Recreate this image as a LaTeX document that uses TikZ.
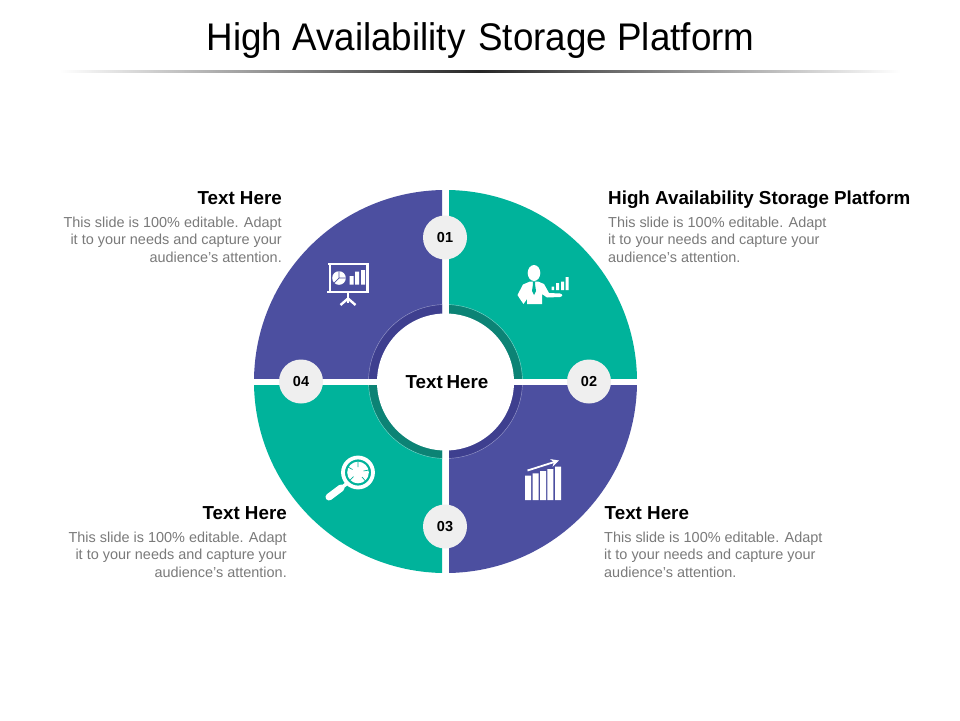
\documentclass[tikz,border=0pt]{standalone}
\usepackage{fontspec}
\setmainfont{Liberation Sans}
\usetikzlibrary{arrows.meta}
\definecolor{tealq}{HTML}{00B39B}
\definecolor{purq}{HTML}{4C4FA0}
\definecolor{tealr}{HTML}{0C8375}
\definecolor{purr}{HTML}{3E3F8F}
\definecolor{badgec}{HTML}{EFEFEF}
\definecolor{bodyc}{HTML}{7A7A7A}
\definecolor{rimt}{HTML}{7FD9CD}
\definecolor{rimp}{HTML}{9A9CCB}
\tikzset{
  headtext/.style={inner sep=0pt,font=\fontsize{18.8}{20}\selectfont\bfseries,text=black},
  bodytext/.style={inner sep=0pt,font=\fontsize{14.45}{17.5}\selectfont,text=bodyc},
  badge/.style={circle,fill=badgec,minimum size=44pt,inner sep=0pt,font=\fontsize{14.5}{16}\selectfont\bfseries,text=black},
  ico/.style={white,line width=2.4pt},
}
\newcommand{\quadr}[6]{%
  \begin{scope}
    \clip (#1,#2) rectangle (#3,#4);
    \fill[#5] (445.5,381.5) circle[radius=191.5];
    \fill[#6] (445.5,381.5) circle[radius=77];
  \end{scope}}
\begin{document}
\begin{tikzpicture}[x=1pt,y=-1pt]
\useasboundingbox (0,0) rectangle (960,720);
\fill[white] (0,0) rectangle (960,720);
% title
\node[inner sep=0pt,font=\fontsize{38.5}{42}\selectfont,text=black] (title) at (480.5,41) {\scalebox{0.955}[1]{High Availability\hspace{3pt} Storage Platform}};
\shade[left color=white,right color=black!85] (60,70.4) rectangle (480,72);
\shade[left color=black!85,right color=white] (480,70.4) rectangle (900,72);
% quadrants
\quadr{449}{180}{645}{378}{tealq}{tealr}
\quadr{449}{385}{645}{580}{purq}{purr}
\quadr{245}{385}{442}{580}{tealq}{tealr}
\quadr{245}{180}{442}{378}{purq}{purr}
% rim lines
\begin{scope}
  \clip (449,180) rectangle (645,378);
  \draw[rimt,line width=.4pt] (445.5,381.5) circle[radius=77];
\end{scope}
\begin{scope}
  \clip (245,180) rectangle (442,378);
  \draw[rimp,line width=.4pt] (445.5,381.5) circle[radius=77];
\end{scope}
\begin{scope}
  \clip (449,385) rectangle (645,580);
  \draw[rimp,line width=.4pt] (445.5,381.5) circle[radius=77];
\end{scope}
\begin{scope}
  \clip (245,385) rectangle (442,580);
  \draw[rimt,line width=.4pt] (445.5,381.5) circle[radius=77];
\end{scope}
% centre
\node[circle,fill=white,minimum size=137pt,inner sep=0pt,font=\fontsize{18.8}{20}\selectfont\bfseries] (centre) at (445.5,382) {\hspace*{3pt}Text\hspace{-1.5pt} Here};
% badges
\node[badge] (b1) at (445,237.5) {01};
\node[badge] (b2) at (589,381.5) {02};
\node[badge] (b3) at (445,526.5) {03};
\node[badge] (b4) at (301,381.5) {04};
% text blocks
\node[headtext,anchor=base west] (h1) at (608,204) {High Availability Storage Platform};
\node[bodytext,anchor=north west,align=left] (t1) at (608,216.5) {This slide is 100\% editable. Adapt\\it to your needs and capture your\\audience's attention.};
\node[headtext,anchor=base east] (h4) at (282,204) {Text Here};
\node[bodytext,anchor=north east,align=right] (t4) at (282,216.5) {This slide is 100\% editable. Adapt\\it to your needs and capture your\\audience's attention.};
\node[headtext,anchor=base west] (h2) at (604.5,519) {Text Here};
\node[bodytext,anchor=north west,align=left] (t2) at (604,531.5) {This slide is 100\% editable. Adapt\\it to your needs and capture your\\audience's attention.};
\node[headtext,anchor=base east] (h3) at (287,519) {Text Here};
\node[bodytext,anchor=north east,align=right] (t3) at (287,531.5) {This slide is 100\% editable. Adapt\\it to your needs and capture your\\audience's attention.};
% icon: presentation board
\draw[ico] (328,264.2) -- (369,264.2);
\draw[ico] (329.7,264) -- (329.7,292) -- (367.3,292) -- (367.3,264);
\draw[ico] (327,292) -- (369,292);
\draw[ico] (348,292) -- (348,303);
\draw[ico] (340.5,305) -- (348,298.5) -- (355.5,305);
\fill[white] (339,278) circle[radius=6.8];
\draw[purq,line width=.7pt] (339,278) -- (339,271) (339,278) -- (346,278) (339,278) -- (334,283);
\fill[white] (349.5,276) rectangle (353.5,284.5) (355.2,271.5) rectangle (359.2,284.5) (361,270) rectangle (365,284.5);
% icon: person
\fill[white] (534,273) ellipse[x radius=6.3,y radius=8];
\fill[white] (527,304) -- (527,299) -- (523.5,304) -- (520,299) -- (517.5,295) -- (523,284.5) -- (530,281.5) -- (538,281.5) -- (544,284) -- (549,293) -- (560,293.5) .. controls (563,294) and (563,296.5) .. (560,297) -- (547,297.5) -- (542,294) -- (542,304) -- cycle;
\fill[tealq] (532.8,281.5) -- (535.2,281.5) -- (535,284) -- (536,291) -- (534,295) -- (532,291) -- (533,284) -- cycle;
\fill[white] (551.5,286.5) rectangle (554,290) (556,283) rectangle (559,290) (561,281.5) rectangle (564,290) (565.5,277) rectangle (568.7,290);
% icon: magnifier
\draw[white,line width=3.8pt] (358,472.5) circle[radius=15];
\fill[white] (358,472.5) circle[radius=10.8];
\draw[tealq,line width=.7pt] (358,467) -- (358,461.7) (363.5,471) -- (368.8,470) (362,477) -- (365.5,481) (353.5,476.5) -- (350,480) (352.5,469.5) -- (348,467);
% icon: handle
\draw[white,line width=7pt,line cap=round] (329,497) -- (341,488);
\draw[white,line width=3.5pt] (341,488) -- (347,483.5);
% icon: chart
\fill[white] (525,475.7) rectangle (531,500) (532.7,473.3) rectangle (538.7,500) (540,471) rectangle (546,500) (547.3,469) rectangle (553.3,500) (555,466.7) rectangle (561,500);
\draw[white,line width=1.8pt,-{Stealth[length=8pt,width=8pt]}] (527.5,470.5) -- (559,460.5);
\end{tikzpicture}
\end{document}
